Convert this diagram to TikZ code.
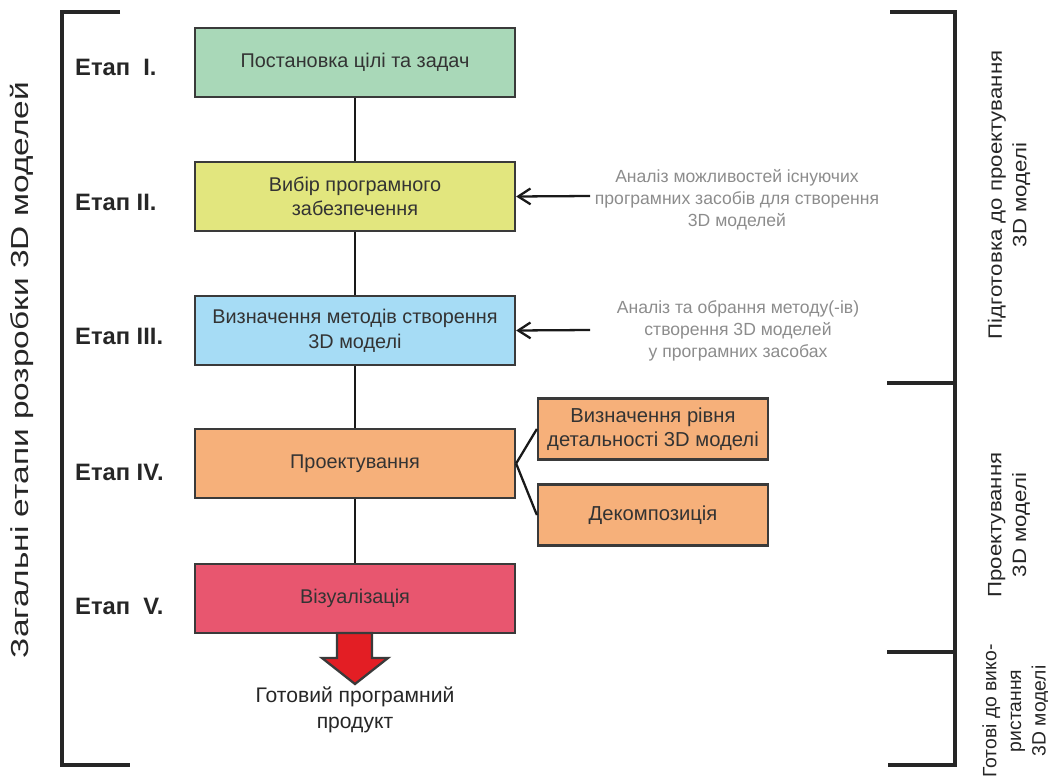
\documentclass[tikz,border=0pt]{standalone}
\usepackage{fontspec}
\setmainfont{Liberation Sans}
\usetikzlibrary{arrows,arrows.meta,positioning,calc}

\definecolor{stgreen}{HTML}{A9D8B8}
\definecolor{styellow}{HTML}{E2E67E}
\definecolor{stblue}{HTML}{A6DCF5}
\definecolor{storange}{HTML}{F6B07A}
\definecolor{stred}{HTML}{E8566F}
\definecolor{arrred}{HTML}{E31E24}
\definecolor{bordgray}{HTML}{3A3A3A}
\definecolor{notegray}{HTML}{8C8C8C}

\begin{document}
\begin{tikzpicture}[x=0.02cm, y=-0.02cm,
    stage/.style={draw=bordgray, line width=1.3pt, minimum width=6.4cm, minimum height=1.38cm,
        align=center, text=black!80, font=\fontsize{11.3}{14}\selectfont},
    subst/.style={stage, fill=storange, minimum width=4.6cm, minimum height=1.22cm,
        font=\fontsize{11.5}{14}\selectfont},
    etap/.style={anchor=west, text=black!85, font=\bfseries\fontsize{13.5}{16}\selectfont},
    note/.style={align=center, text=notegray, font=\fontsize{10}{12.5}\selectfont},
    side/.style={rotate=90, align=center, text=black!85, font=\fontsize{11}{14}\selectfont},
    link/.style={line width=1.3pt, draw=black!90},
    brace/.style={line width=2.8pt, draw=black!85}]
    \useasboundingbox (0,0) rectangle (1048,781);

    % stages
    \node[stage, fill=stgreen] (st1) at (355,62.5) {Постановка цілі та задач};
    \node[stage, fill=styellow] (st2) at (355,196.5) {Вибір програмного\\забезпечення};
    \node[stage, fill=stblue] (st3) at (355,330.5) {Визначення методів створення\\3D моделі};
    \node[stage, fill=storange] (st4) at (355,463.5) {Проектування};
    \node[stage, fill=stred] (st5) at (355,598.5) {Візуалізація};

    \draw[link] (st1) -- (st2);
    \draw[link] (st2) -- (st3);
    \draw[link] (st3) -- (st4);
    \draw[link] (st4) -- (st5);

    % stage labels
    \node[etap] (et1) at (69,67) {Етап\ \ I.};
    \node[etap] (et2) at (69,202) {Етап II.};
    \node[etap] (et3) at (69,336) {Етап III.};
    \node[etap] (et4) at (69,472) {Етап IV.};
    \node[etap] (et5) at (69,606) {Етап\ \ V.};

    % design sub-steps
    \node[subst] (lod) at (653,429) {Визначення рівня\\детальності 3D моделі};
    \node[subst] (dec) at (653,515) {Декомпозиція};
    \draw[link] (st4.east) -- (lod.west);
    \draw[link] (st4.east) -- (dec.west);

    % notes
    \node[note] (nt2) at (737,200) {Аналіз можливостей існуючих\\програмних засобів для створення\\3D моделей};
    \node[note] (nt3) at (738,331) {Аналіз та обрання методу(-ів)\\створення 3D моделей\\у програмних засобах};
    \coordinate (a2) at (590,196);
    \coordinate (a3) at (590,330);
    \draw[link, -{Straight Barb[length=7pt,width=9pt]}] (a2) -- (st2.east);
    \draw[link, -{Straight Barb[length=7pt,width=9pt]}] (a3) -- (st3.east);

    % result
    \draw[draw=bordgray, line width=1.3pt, fill=arrred]
        (337,633) -- (372,633) -- (372,658) -- (388,658) -- (355,684)
        -- (322,658) -- (337,658) -- cycle;
    \node[align=center, text=black!85, font=\fontsize{12}{14.5}\selectfont] (res) at (355,710)
        {Готовий програмний\\продукт};

    % brackets
    \draw[brace] (120,12) -- (62,12) -- (62,765) -- (130,765);
    \draw[brace] (890,12) -- (955,12) -- (955,765) -- (888,765);
    \draw[brace] (887,383) -- (955,383);
    \draw[brace] (887,652) -- (955,652);

    % side captions
    \node[side, font=\fontsize{14}{17}\selectfont] (cap) at (22,370)
        {\scalebox{1.36}[1]{Загальні етапи розробки 3D моделей}};
    \node[side] (cp1) at (1009,195)
        {\scalebox{1.15}[1]{Підготовка до проектування}\\\scalebox{1.15}[1]{3D моделі}};
    \node[side] (cp2) at (1009,525)
        {\scalebox{1.15}[1]{Проектування}\\\scalebox{1.15}[1]{3D моделі}};
    \node[side] (cp3) at (1016,711)
        {\scalebox{1.0}[1]{Готові до вико-}\\\scalebox{1.0}[1]{ристання}\\\scalebox{1.0}[1]{3D моделі}};
\end{tikzpicture}
\end{document}
